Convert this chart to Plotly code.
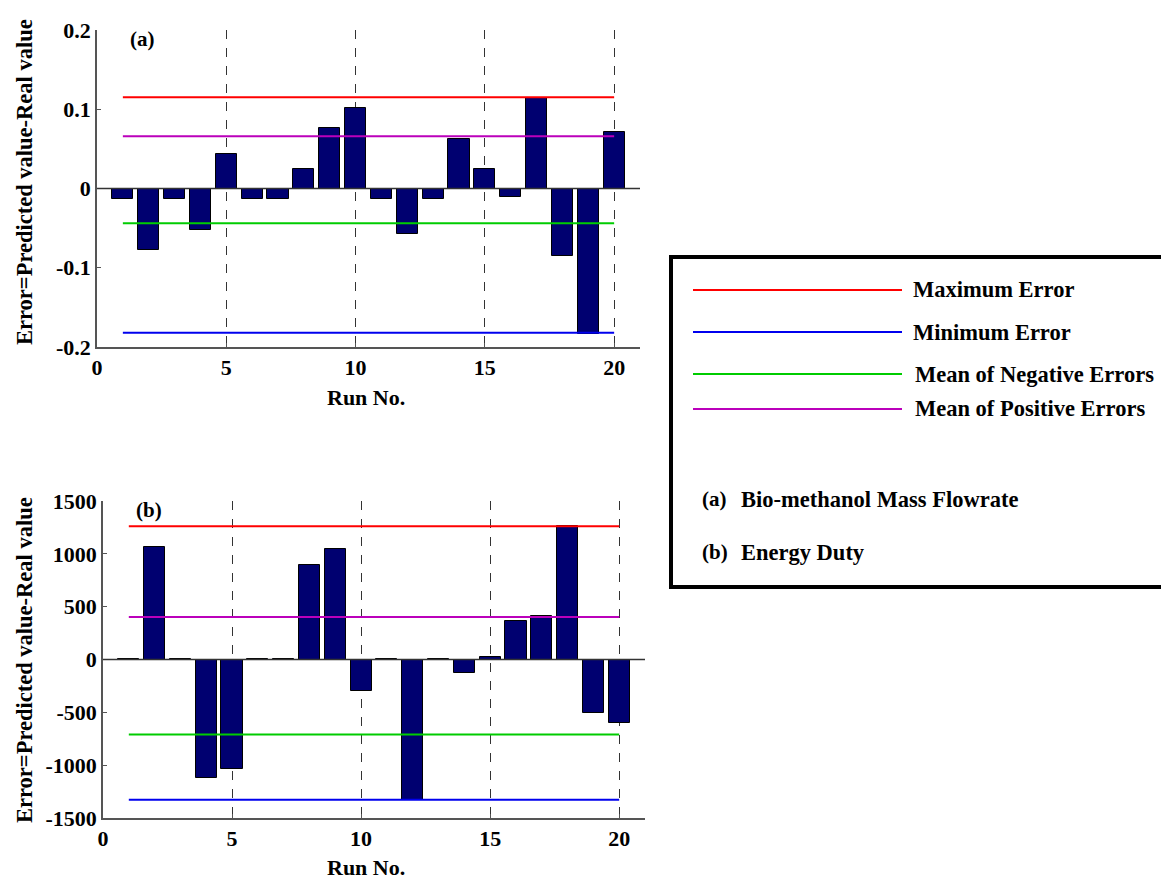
import plotly.graph_objects as go

runs = list(range(1, 21))
err_a = [-0.013, -0.078, -0.013, -0.052, 0.044, -0.013, -0.013, 0.025, 0.076, 0.101,
         -0.013, -0.058, -0.013, 0.062, 0.025, -0.011, 0.114, -0.085, -0.183, 0.071]
err_b = [5, 1068, 5, -1125, -1040, 5, 5, 892, 1049, -296,
         5, -1330, 5, -132, 22, 369, 410, 1260, -507, -602]

ref_names = ["Maximum Error", "Minimum Error", "Mean of Negative Errors", "Mean of Positive Errors"]
ref_colors = ["#ff0000", "#0000ee", "#00cc00", "#bb00bb"]
ref_a = [0.115, -0.182, -0.044, 0.066]
ref_b = [1260, -1327, -709, 403]
ref_span = [1, 20]

ticks_a = [-0.2, -0.1, 0, 0.1, 0.2]
ticklab_a = ["-0.2", "-0.1", "0", "0.1", "0.2"]
ticks_b = [-1500, -1000, -500, 0, 500, 1000, 1500]
ticklab_b = ["-1500", "-1000", "-500", "0", "500", "1000", "1500"]
ticks_x = [0, 5, 10, 15, 20]

panel_labels = ["(a)", "(b)"]
panel_desc = ["Bio-methanol Mass Flowrate", "Energy Duty"]
x_title = "Run No."
y_title = "Error=Predicted value-Real value"

FONT = "Liberation Serif, Times New Roman, serif"

# page body has an 8px margin; map screen pixels to paper fractions
OFF = 8
W, H = 1169 - OFF, 881 - OFF
def px(x):
    return (x - OFF) / W
def py(y):
    return 1 - (y - OFF) / H

fig = go.Figure()

for vals, refs, xa, ya in [(err_a, ref_a, "x", "y"), (err_b, ref_b, "x2", "y2")]:
    fig.add_trace(go.Bar(x=runs, y=vals, width=0.82, xaxis=xa, yaxis=ya,
                         marker=dict(color="#000070", line=dict(color="#000000", width=1)),
                         showlegend=False))
    for name, col, v in zip(ref_names, ref_colors, refs):
        fig.add_trace(go.Scatter(x=ref_span, y=[v, v], mode="lines", xaxis=xa, yaxis=ya,
                                 line=dict(color=col, width=2), name=name, showlegend=False))

tickfont = dict(family=FONT, size=22, color="#000000", weight="bold")
axis_common = dict(showline=True, linecolor="#555555", linewidth=1.5, mirror=False,
                   ticks="inside", ticklen=4, tickcolor="#555555", tickwidth=1,
                   zeroline=False, automargin=False, tickfont=tickfont)
xcommon = dict(axis_common, range=[0, 21], tickvals=ticks_x,
               showgrid=True, gridcolor="#333333", griddash="dash", gridwidth=1)
ycommon = dict(axis_common, showgrid=False)

fig.update_layout(
    width=W, height=H,
    margin=dict(l=0, r=0, t=0, b=0, autoexpand=False),
    paper_bgcolor="white", plot_bgcolor="white",
    bargap=0,
    xaxis=dict(xcommon, domain=[px(97), px(640)], anchor="y"),
    yaxis=dict(ycommon, domain=[py(347), py(30)], range=[-0.2, 0.2],
               tickvals=ticks_a, ticktext=ticklab_a, anchor="x"),
    xaxis2=dict(xcommon, domain=[px(103), px(645)], anchor="y2"),
    yaxis2=dict(ycommon, domain=[py(818), py(501)], range=[-1500, 1500],
                tickvals=ticks_b, ticktext=ticklab_b, anchor="x2"),
    font=dict(family=FONT, color="#000000"),
)

# zero baselines
for xr, yr in [("x", "y"), ("x2", "y2")]:
    fig.add_shape(type="line", xref=xr + " domain", yref=yr, x0=0, x1=1, y0=0, y1=0,
                  line=dict(color="#333333", width=1.5))

# panel labels
for lab, xr, yr in zip(panel_labels, ["x", "x2"], ["y", "y2"]):
    fig.add_annotation(x=0.058, y=1.015, xref=xr + " domain", yref=yr + " domain", text="<b>" + lab + "</b>",
                       showarrow=False, xanchor="left", yanchor="top",
                       font=dict(family=FONT, size=21, color="#000000"))

# axis titles
fig.add_annotation(x=px(366), y=py(398), xref="paper", yref="paper", text="<b>" + x_title + "</b>",
                   showarrow=False, xanchor="center", yanchor="middle",
                   font=dict(family=FONT, size=22, color="#000000"))
fig.add_annotation(x=px(366), y=0, xref="paper", yref="paper", text="<b>" + x_title + "</b>",
                   showarrow=False, xanchor="center", yanchor="bottom", borderpad=0,
                   font=dict(family=FONT, size=22, color="#000000"))
for xc, yc in [(25, 182), (24, 660)]:
    fig.add_annotation(x=px(xc), y=py(yc), xref="paper", yref="paper", text="<b>" + y_title + "</b>",
                       showarrow=False, xanchor="center", yanchor="middle", textangle=-90,
                       font=dict(family=FONT, size=22.5, color="#000000"))

# legend box
fig.add_shape(type="rect", xref="paper", yref="paper", x0=px(671), x1=px(1180), y0=py(587), y1=py(257),
              line=dict(color="#000000", width=4), fillcolor="rgba(0,0,0,0)")
leg_y = [290, 332, 374, 409]
leg_tx = [911, 911, 913, 913]
for name, col, yy, tx in zip(ref_names, ref_colors, leg_y, leg_tx):
    fig.add_shape(type="line", xref="paper", yref="paper", x0=px(693), x1=px(902), y0=py(yy), y1=py(yy),
                  line=dict(color=col, width=2))
    fig.add_annotation(x=px(tx), y=py(yy), xref="paper", yref="paper", text="<b>" + name + "</b>",
                       showarrow=False, xanchor="left", yanchor="middle",
                       font=dict(family=FONT, size=22.5, color="#000000"))

for lab, desc, yy in zip(panel_labels, panel_desc, [499, 552]):
    fig.add_annotation(x=px(700), y=py(yy), xref="paper", yref="paper", text="<b>" + lab + "</b>",
                       showarrow=False, xanchor="left", yanchor="middle",
                       font=dict(family=FONT, size=21, color="#000000"))
    fig.add_annotation(x=px(739), y=py(yy), xref="paper", yref="paper", text="<b>" + desc + "</b>",
                       showarrow=False, xanchor="left", yanchor="middle",
                       font=dict(family=FONT, size=22.5, color="#000000"))

fig.write_html("out.html")
